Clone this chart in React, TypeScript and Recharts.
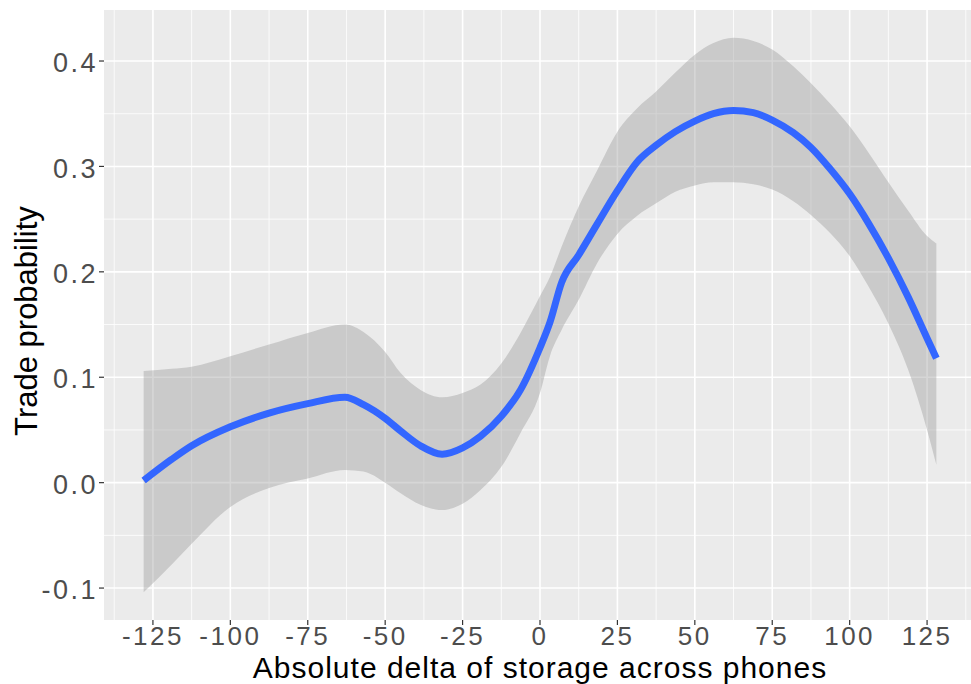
import React from 'react';
import { ComposedChart, Area, Line, XAxis, YAxis, CartesianGrid } from 'recharts';

// smoothed fit of trade probability with its confidence band
const storageDelta = [-128, -119, -112.5, -100, -87.5, -75, -63, -57, -50, -45, -38.6, -31.6, -25, -19.2, -12.5, -6.3, 0, 3.2, 7, 12.5, 18.4, 25, 31.3, 37.5, 43.7, 50, 56, 62.5, 68.9, 75, 81.8, 87.5, 93.6, 100, 106.1, 112.5, 118.9, 125, 128];
const fitted = [0.002, 0.022, 0.035, 0.053, 0.066, 0.075, 0.081, 0.074, 0.061, 0.049, 0.035, 0.027, 0.033, 0.044, 0.063, 0.088, 0.128, 0.152, 0.19, 0.216, 0.245, 0.277, 0.304, 0.32, 0.333, 0.343, 0.35, 0.353, 0.351, 0.344, 0.332, 0.318, 0.298, 0.274, 0.246, 0.213, 0.176, 0.137, 0.118];
const lower = [-0.104, -0.078, -0.058, -0.023, -0.005, 0.004, 0.012, 0.0105, 0.0, -0.01, -0.021, -0.026, -0.02, -0.007, 0.015, 0.047, 0.085, 0.12, 0.145, 0.1735, 0.208, 0.236, 0.253, 0.265, 0.276, 0.282, 0.285, 0.285, 0.283, 0.278, 0.267, 0.254, 0.237, 0.215, 0.186, 0.151, 0.107, 0.05, 0.017];
const upper = [0.106, 0.108, 0.11, 0.12, 0.131, 0.142, 0.15, 0.143, 0.124, 0.104, 0.088, 0.081, 0.085, 0.093, 0.113, 0.142, 0.177, 0.195, 0.224, 0.262, 0.296, 0.333, 0.355, 0.371, 0.389, 0.406, 0.417, 0.422, 0.419, 0.411, 0.395, 0.379, 0.36, 0.338, 0.313, 0.285, 0.258, 0.234, 0.227];

const xTicks = [-125, -100, -75, -50, -25, 0, 25, 50, 75, 100, 125];
const xMinor = [-137.5, -112.5, -87.5, -62.5, -37.5, -12.5, 12.5, 37.5, 62.5, 87.5, 112.5, 137.5];
const yTicks = [-0.1, 0, 0.1, 0.2, 0.3, 0.4];
const yMinor = [-0.05, 0.05, 0.15, 0.25, 0.35];

const data = storageDelta.map((d, i) => ({
  delta: d,
  fit: fitted[i],
  band: [lower[i], upper[i]],
}));

const FONT = '"Liberation Sans", Arial, Helvetica, sans-serif';

const tickStyle = { fill: '#4D4D4D', fontSize: 26, fontFamily: FONT, letterSpacing: 2.5 };

const XTitle = () => (
  <text x={540} y={678} textAnchor="middle" fontSize={30} fontFamily={FONT} letterSpacing={1} fill="#000">
    Absolute delta of storage across phones
  </text>
);

const YTitle = () => (
  <text transform="translate(36.5,321) rotate(-90)" textAnchor="middle" fontSize={31} fontFamily={FONT} fill="#000">
    Trade probability
  </text>
);

export default function App() {
  return (
    <div style={{ position: 'absolute', left: 0, top: 0, width: 971, height: 684, overflow: 'hidden', background: '#fff' }}>
      <ComposedChart width={980} height={684} data={data} margin={{ top: 10, right: 4, bottom: 0, left: 0 }}>
        <CartesianGrid
          fill="#EBEBEB"
          stroke="#FFFFFF"
          strokeWidth={0.8}
          horizontalValues={yMinor}
          verticalValues={xMinor}
        />
        <CartesianGrid
          stroke="#FFFFFF"
          strokeWidth={1.6}
          horizontalValues={yTicks}
          verticalValues={xTicks}
        />
        <XAxis
          dataKey="delta"
          type="number"
          domain={[-140.8, 140.8]}
          ticks={xTicks}
          interval={0}
          allowDataOverflow
          height={64}
          axisLine={false}
          tickLine={{ stroke: '#333333', strokeWidth: 1.2 }}
          tickSize={5}
          tickMargin={2}
          tick={tickStyle}
          label={<XTitle />}
        />
        <YAxis
          type="number"
          domain={[-0.1303, 0.4484]}
          ticks={yTicks}
          interval={0}
          allowDataOverflow
          width={104}
          axisLine={false}
          tickLine={{ stroke: '#333333', strokeWidth: 1.2 }}
          tickSize={5}
          tickMargin={1}
          tick={{ ...tickStyle, fontSize: 27, dy: 1.5 }}
          tickFormatter={(v: number) => v.toFixed(1)}
          label={<YTitle />}
        />
        <Area
          dataKey="band"
          type="monotone"
          stroke="none"
          fill="#999999"
          fillOpacity={0.4}
          isAnimationActive={false}
        />
        <Line
          dataKey="fit"
          type="monotone"
          stroke="#3366FF"
          strokeWidth={7}
          dot={false}
          activeDot={false}
          isAnimationActive={false}
        />
      </ComposedChart>
    </div>
  );
}
